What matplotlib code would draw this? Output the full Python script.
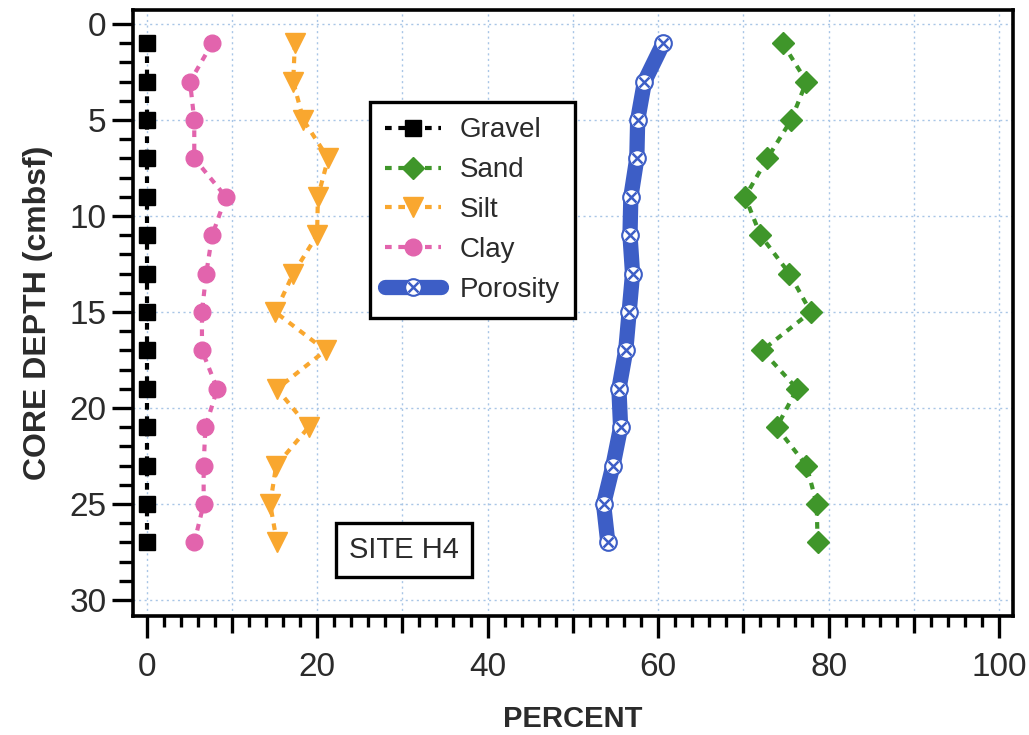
import matplotlib
matplotlib.use("Agg")
import matplotlib.pyplot as plt
from matplotlib.ticker import FixedLocator, NullFormatter

plt.rcParams['font.family'] = ['Liberation Sans', 'DejaVu Sans']
text_color = '#2b2b2b'

# Sample depths (cmbsf) and grain-size / porosity percentages
depth = [1, 3, 5, 7, 9, 11, 13, 15, 17, 19, 21, 23, 25, 27]
gravel = [0, 0, 0, 0, 0, 0, 0, 0, 0, 0, 0, 0, 0, 0]
sand = [74.6, 77.4, 75.6, 72.8, 70.2, 72.0, 75.4, 77.9, 72.2, 76.3, 73.9, 77.4, 78.6, 78.7]
silt = [17.4, 17.2, 18.4, 21.3, 20.1, 20.0, 17.2, 15.1, 21.0, 15.3, 19.0, 15.2, 14.5, 15.3]
clay = [7.7, 5.1, 5.6, 5.6, 9.3, 7.7, 7.0, 6.5, 6.5, 8.3, 6.9, 6.7, 6.7, 5.6]
porosity = [60.6, 58.4, 57.6, 57.5, 56.8, 56.7, 57.0, 56.6, 56.2, 55.4, 55.6, 54.7, 53.6, 54.1]

fig = plt.figure(figsize=(10.29, 7.35), dpi=100)
ax = fig.add_axes([0.1293, 0.1619, 0.855, 0.8245])

dash = (0, (1.6, 1.6))
h_gravel, = ax.plot(gravel, depth, color='black', ls=dash, lw=3, marker='s', ms=12,
                    label='Gravel', zorder=4)
h_sand, = ax.plot(sand, depth, color='#3f962a', ls=dash, lw=3, marker='D', ms=11,
                  label='Sand', zorder=4)
h_silt, = ax.plot(silt, depth, color='#f9a72f', ls=dash, lw=3, marker='v', ms=15,
                  label='Silt', zorder=4)
h_clay, = ax.plot(clay, depth, color='#e264ad', ls=dash, lw=3, marker='o', ms=12,
                  label='Clay', zorder=4)

blue = '#3d5ec6'
h_por, = ax.plot(porosity, depth, color=blue, lw=11, solid_capstyle='round',
                 marker='o', ms=12, mfc='white', mec=blue, mew=1.5, zorder=5)
h_porx, = ax.plot(porosity, depth, ls='none', marker='x', ms=6.5, color=blue,
                  mew=1.8, zorder=6)

ax.set_xlim(-1.58, 101.6)
ax.set_ylim(30.83, -0.73)

# ticks: x major every 20 (labelled), medium every 10, minor every 2
ax.xaxis.set_major_locator(FixedLocator(list(range(0, 101, 10))))
ax.set_xticklabels(['0', '', '20', '', '40', '', '60', '', '80', '', '100'])
ax.xaxis.set_minor_locator(FixedLocator([v for v in range(0, 101, 2) if v % 10]))
ax.yaxis.set_major_locator(FixedLocator(list(range(0, 31, 5))))
ax.yaxis.set_minor_locator(FixedLocator([v for v in range(0, 31) if v % 5]))
ax.yaxis.set_minor_formatter(NullFormatter())

ax.tick_params(axis='x', which='major', direction='out', length=16, width=2.4,
               pad=10, labelsize=24, colors='black', labelcolor=text_color)
ax.tick_params(axis='x', which='minor', direction='out', length=8, width=2.4)
ax.tick_params(axis='y', which='major', direction='out', length=15, width=2.4,
               pad=4, labelsize=24, colors='black', labelcolor=text_color)
ax.tick_params(axis='y', which='minor', direction='out', length=10, width=2.4)

for tick, val in zip(ax.xaxis.get_major_ticks(), range(0, 101, 10)):
    if val % 20:
        tick.tick1line.set_markersize(12)

for sp in ax.spines.values():
    sp.set_linewidth(2.6)
    sp.set_color('black')

ax.grid(True, which='major', color='#a9c6e6', ls=(0, (1.5, 2.5)), lw=1.0)
ax.set_axisbelow(True)

ax.set_xlabel('PERCENT', fontsize=21, fontweight='bold', color=text_color, labelpad=16)
ax.set_ylabel('CORE DEPTH (cmbsf)', fontsize=23, fontweight='bold', color=text_color,
              labelpad=12)

leg = ax.legend([h_gravel, h_sand, h_silt, h_clay, (h_por, h_porx)],
                ['Gravel', 'Sand', 'Silt', 'Clay', 'Porosity'],
                loc='upper left', bbox_to_anchor=(0.269, 0.848), borderaxespad=0,
                fontsize=20, fancybox=False, framealpha=1, edgecolor='black',
                handlelength=2.0, handletextpad=0.7, labelspacing=0.5, borderpad=0.55)
leg.get_frame().set_linewidth(2.4)
for t in leg.get_texts():
    t.set_color(text_color)

ax.text(30.2, 27.4, 'SITE H4', fontsize=21, color=text_color, ha='center', va='center',
        bbox=dict(boxstyle='square,pad=0.45', fc='white', ec='black', lw=2.4), zorder=7)

fig.savefig('out.png', dpi=100)
